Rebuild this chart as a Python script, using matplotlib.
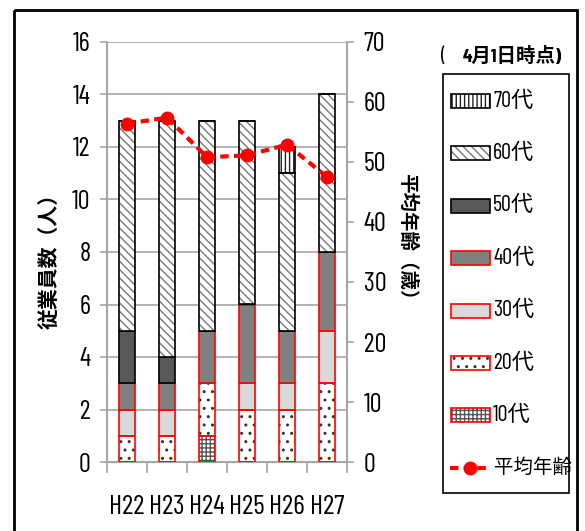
import matplotlib
matplotlib.use("Agg")
import matplotlib.pyplot as plt
from matplotlib.patches import Rectangle
import matplotlib.font_manager as fm
import numpy as np

names = {f.name for f in fm.fontManager.ttflist}
NUM = next((n for n in ['Barlow Condensed', 'Roboto Condensed', 'Archivo Narrow', 'Asap Condensed']
            if n in names), 'DejaVu Sans')
CJK = 'Noto Sans CJK JP'
plt.rcParams['font.family'] = [NUM, CJK, 'DejaVu Sans']
plt.rcParams['hatch.linewidth'] = 1.0

years = ['H22', 'H23', 'H24', 'H25', 'H26', 'H27']
age10 = [0, 0, 1, 0, 0, 0]
age20 = [1, 1, 2, 2, 2, 3]
age30 = [1, 1, 0, 1, 1, 2]
age40 = [1, 1, 2, 3, 2, 3]
age50 = [2, 1, 0, 0, 0, 0]
age60 = [8, 9, 8, 7, 6, 6]
age70 = [0, 0, 0, 0, 1, 0]
avg_age = [56.4, 57.4, 50.8, 51.1, 52.9, 47.5]

# (label, values, facecolor, hatch, hatchcolor, edgecolor)
series = [
    ('10代', age10, 'white', '++++', '#555555', '#ff0000'),
    ('20代', age20, 'white', '..', '#333333', '#ff0000'),
    ('30代', age30, '#d9d9d9', None, None, '#ff0000'),
    ('40代', age40, '#808080', None, None, '#ff0000'),
    ('50代', age50, '#595959', None, None, '#000000'),
    ('60代', age60, 'white', '\\\\\\\\', '#777777', '#000000'),
    ('70代', age70, 'white', '||||', '#222222', '#000000'),
]

fig = plt.figure(figsize=(5.85, 5.31), dpi=100)
W, H = 585, 531
ax = fig.add_axes([107 / W, 1 - 462 / H, 240 / W, 420 / H])
ax2 = ax.twinx()

x = np.arange(len(years))
bw = 0.4
bottom = np.zeros(len(years))
for label, vals, fc, hatch, hc, ec in series:
    v = np.array(vals, dtype=float)
    if hatch:
        ax.bar(x, v, bw, bottom=bottom, color=fc, hatch=hatch, edgecolor=hc,
               linewidth=0, zorder=3)
        ax.bar(x, v, bw, bottom=bottom, fill=False, edgecolor=ec, linewidth=1.2, zorder=4)
    else:
        ax.bar(x, v, bw, bottom=bottom, color=fc, edgecolor=ec, linewidth=1.2, zorder=3)
    bottom += v

ax.set_xlim(-0.5, len(years) - 0.5)
ax.set_ylim(0, 16)
ax.set_yticks(np.arange(0, 17, 2))
ax.yaxis.grid(True, color='#a6a6a6', linewidth=1.2, zorder=0)
ax.set_axisbelow(True)
ax.set_xticks(x)
ax.set_xticklabels(years)
ax.set_xticks(np.arange(-0.5, len(years), 1), minor=True)
ax.tick_params(axis='x', which='major', length=0, pad=24, labelsize=20)
ax.tick_params(axis='x', which='minor', length=8, color='#a6a6a6', width=1.2)
ax.tick_params(axis='y', length=5, color='#a6a6a6', width=1.2, labelsize=19, pad=7)
for sp in ['top', 'right']:
    ax.spines[sp].set_visible(False)
for sp in ['left', 'bottom']:
    ax.spines[sp].set_color('#a6a6a6')
    ax.spines[sp].set_linewidth(1.5)

ax2.plot(x, avg_age, color='#ff0000', linewidth=3, linestyle=(0, (2.0, 1.3)),
         marker='o', markersize=9, zorder=5)
ax2.set_ylim(0, 70)
ax2.set_yticks(np.arange(0, 71, 10))
ax2.tick_params(axis='y', length=5, color='#a6a6a6', width=1.2, labelsize=19, pad=7)
for sp in ['top', 'left', 'bottom']:
    ax2.spines[sp].set_visible(False)
ax2.spines['right'].set_color('#a6a6a6')
ax2.spines['right'].set_linewidth(1.5)

fig.text(49 / W, 1 - 256 / H, '従業員数（人）', rotation=90, ha='center', va='center',
         fontsize=15, fontweight='bold', family=[CJK])
fig.text(407 / W, 1 - 241 / H, '平均年齢（歳）', rotation=-90, ha='center', va='center',
         fontsize=14, fontweight='bold', family=[CJK])
fig.text(441 / W, 1 - 56 / H, '(', ha='left', va='center', fontsize=15, family=[NUM])
fig.text(463 / W, 1 - 56 / H, '4月1日時点)', ha='left', va='center',
         fontsize=14, fontweight='bold', family=[NUM, CJK])

# manual legend in pixel coordinates
lax = fig.add_axes([0, 0, 1, 1], zorder=6)
lax.set_xlim(0, W)
lax.set_ylim(H, 0)
lax.axis('off')
lax.add_patch(Rectangle((443, 74), 126, 419, facecolor='white', edgecolor='black', linewidth=1.2))
lookup = {s[0]: s for s in series}
order = ['70代', '60代', '50代', '40代', '30代', '20代', '10代']
y0, dy = 101, 52.4
for i, key in enumerate(order):
    _, _, fc, hatch, hc, ec = lookup[key]
    yc = y0 + i * dy
    if hatch:
        lax.add_patch(Rectangle((451, yc - 7), 39, 14, facecolor=fc, hatch=hatch,
                                edgecolor=hc, linewidth=0))
        lax.add_patch(Rectangle((451, yc - 7), 39, 14, fill=False, edgecolor=ec, linewidth=1.2))
    else:
        lax.add_patch(Rectangle((451, yc - 7), 39, 14, facecolor=fc, edgecolor=ec, linewidth=1.2))
    lax.text(493, yc, key, ha='left', va='center', fontsize=16, family=[NUM, CJK])
yc = y0 + 7 * dy
lax.plot([450, 490], [yc, yc], color='#ff0000', linewidth=3, linestyle=(0, (2.0, 1.3)))
lax.plot([470], [yc], color='#ff0000', marker='o', markersize=9)
lax.text(494, yc, '平均年齢', ha='left', va='center', fontsize=14, family=[CJK])

lax.add_patch(Rectangle((14, 10), 563, 540, fill=False, edgecolor='black', linewidth=2,
                        clip_on=False))

fig.savefig('out.png', dpi=100)
